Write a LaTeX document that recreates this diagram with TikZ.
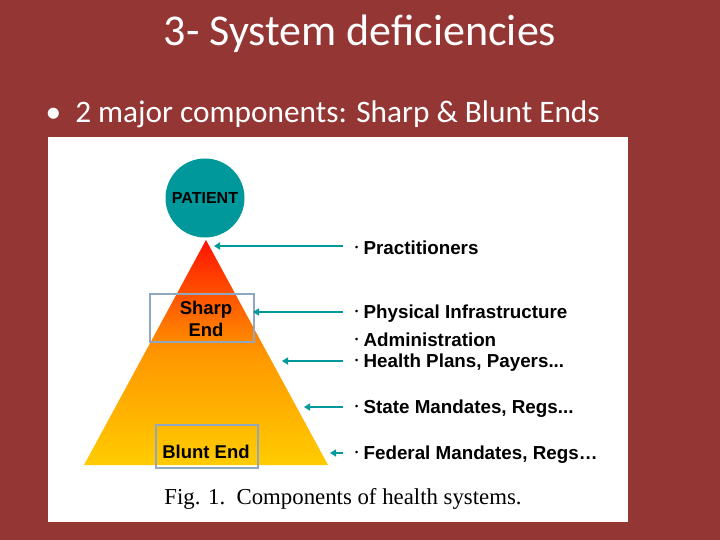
\documentclass[tikz,border=0pt]{standalone}
\usepackage{fontspec}
\setmainfont{Carlito}
\newfontfamily\arialb{Liberation Sans}
\newfontfamily\timesf{Liberation Serif}
\usetikzlibrary{arrows.meta}
\definecolor{bg}{HTML}{943634}
\definecolor{teal}{HTML}{00989A}
\definecolor{boxc}{HTML}{8FA8C0}
\tikzset{
  lbl/.style={anchor=west,font=\arialb\bfseries\fontsize{18.8}{20}\selectfont,inner sep=0pt},
  arr/.style={draw=teal,line width=2.2pt,-{Triangle[length=6pt,width=7pt]}},
  endbox/.style={draw=boxc,line width=2pt,inner sep=0pt},
  endtxt/.style={font=\arialb\bfseries\fontsize{18.5}{22}\selectfont,align=center,inner sep=0pt}
}
\begin{document}
\begin{tikzpicture}[x=1pt,y=-1pt]
\useasboundingbox (0,0) rectangle (720,540);
\fill[bg] (0,0) rectangle (720,540);
\node[text=white,font=\fontsize{44}{48}\selectfont] (title) at (360,34) {3- System deficiencies};
\node[text=white,font=\fontsize{31.3}{36}\selectfont,anchor=west] (sub) at (42,114) {\textbullet\ \ 2 major components: Sharp \& Blunt Ends};
\fill[white] (48,137) rectangle (628,522);
\shade[top color=red!85!orange, bottom color={rgb,255:red,255;green,204;blue,0},middle color={rgb,255:red,255;green,150;blue,0}] (206,240) -- (328,465) -- (84,465) -- cycle;
\node[circle,fill=teal,minimum size=79pt,inner sep=0pt,font=\arialb\bfseries\fontsize{16}{18}\selectfont] (pat) at (205,198) {PATIENT};
\draw[endbox] (150,294) rectangle (254,342);
\node[endtxt] (sharp) at (206,319) {Sharp\\End};
\draw[endbox] (156,425) rectangle (258,468);
\node[endtxt] (blunt) at (206,452) {Blunt End};
\foreach \y/\t/\n in {248/Practitioners/a, 314/Physical Infrastructure/b, 340/Administration/c, 363/{Health Plans, Payers...}/d, 409/{State Mandates, Regs...}/e, 455/{Federal Mandates, Regs\dots}/f}{
  \node[lbl] (t\n) at (355,\y) {\raisebox{4pt}{\fontsize{9}{9}\selectfont\textbullet}\ \t};
}
\coordinate (pa) at (214,246); \coordinate (pb) at (253,312); \coordinate (pd) at (282,361);
\coordinate (pe) at (304,407); \coordinate (pf) at (330,453);
\foreach \n in {a,b,d,e,f}{ \draw[arr] (p\n -| t\n.west)++(-12,0) -- (p\n); }
\node[font=\timesf\fontsize{22.8}{26}\selectfont] (cap) at (343,499) {Fig. 1.\ \ Components of health systems.};
\end{tikzpicture}
\end{document}
